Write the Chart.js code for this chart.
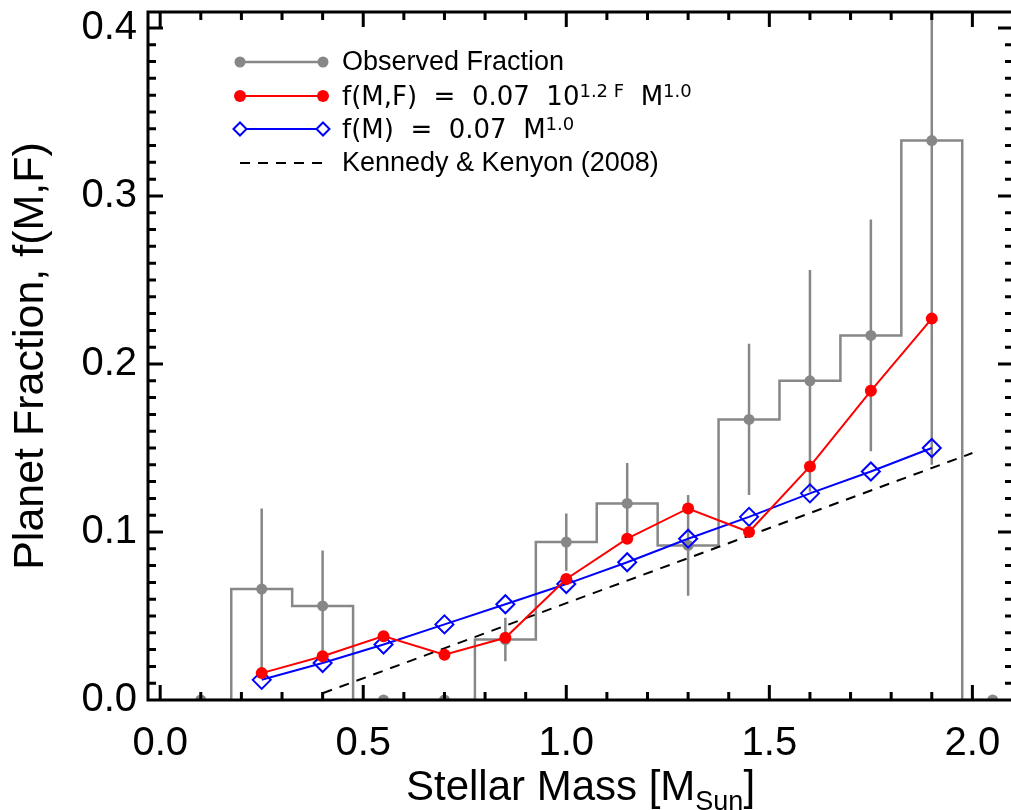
<!DOCTYPE html>
<html>
<head>
<meta charset="utf-8">
<script src="https://cdn.jsdelivr.net/npm/chart.js@4.4.0/dist/chart.umd.min.js"></script>
<style>
  html, body { margin: 0; padding: 0; background: #fff; overflow: hidden; }
  #wrap { width: 1011px; height: 810px; overflow: hidden; }
</style>
</head>
<body>
<div id="wrap"><canvas id="myChart" width="1016" height="810"></canvas></div>
<script>
// Data
const mass_bins = [0.1, 0.25, 0.4, 0.55, 0.7, 0.85, 1.0, 1.15, 1.3, 1.45, 1.6, 1.75, 1.9, 2.05];
const observed_frac = [0, 0.066, 0.056, 0, 0, 0.036, 0.094, 0.117, 0.092, 0.167, 0.190, 0.217, 0.333, 0];
const observed_err = [0, 0.048, 0.033, 0, 0, 0.013, 0.017, 0.024, 0.030, 0.045, 0.066, 0.069, 0.193, 0];

const model_mass = [0.25, 0.4, 0.55, 0.7, 0.85, 1.0, 1.15, 1.3, 1.45, 1.6, 1.75, 1.9];
const fmf_values = [0.016, 0.026, 0.038, 0.027, 0.037, 0.072, 0.096, 0.114, 0.100, 0.139, 0.184, 0.227];
const fm_values = [0.012, 0.022, 0.033, 0.045, 0.057, 0.069, 0.082, 0.096, 0.109, 0.123, 0.136, 0.150];

const kk_mass = [0.4, 2.0];
const kk_values = [0.004, 0.147];

const x_ticks = [0.0, 0.5, 1.0, 1.5, 2.0];
const y_ticks = [0.0, 0.1, 0.2, 0.3, 0.4];

// Styles
const FONT = '"Liberation Sans", Arial, Helvetica, sans-serif';
const GRAY = "#878787";
const RED = "#ff0000";
const BLUE = "#0000ff";

Chart.defaults.font.family = FONT;
Chart.defaults.color = "#000";

const toPoints = (xs, ys) => xs.map((x, i) => ({ x: x, y: ys[i] }));

// Error bars on the observed fraction
const errorBars = {
  id: "errorBars",
  beforeDatasetsDraw(chart) {
    const { ctx, chartArea, scales } = chart;
    ctx.save();
    ctx.beginPath();
    ctx.rect(chartArea.left, chartArea.top, chartArea.right - chartArea.left, chartArea.bottom - chartArea.top);
    ctx.clip();
    ctx.strokeStyle = GRAY;
    ctx.lineWidth = 2.5;
    ctx.beginPath();
    mass_bins.forEach((m, i) => {
      if (!observed_err[i]) return;
      const px = scales.x.getPixelForValue(m);
      ctx.moveTo(px, scales.y.getPixelForValue(observed_frac[i] - observed_err[i]));
      ctx.lineTo(px, scales.y.getPixelForValue(observed_frac[i] + observed_err[i]));
    });
    ctx.stroke();
    ctx.restore();
  }
};

// Box frame with inward ticks on all four sides
const frame = {
  id: "frame",
  afterDatasetsDraw(chart) {
    const { ctx, chartArea: a, scales } = chart;
    ctx.save();
    ctx.strokeStyle = "#000";
    ctx.lineWidth = 3;
    ctx.beginPath();
    for (let i = 0; i <= 21; i++) {
      const px = scales.x.getPixelForValue(i / 10);
      if (px <= a.left + 1 || px >= a.right - 1) continue;
      const len = i % 5 === 0 ? 15 : 8;
      ctx.moveTo(px, a.bottom);
      ctx.lineTo(px, a.bottom - len);
      ctx.moveTo(px, a.top);
      ctx.lineTo(px, a.top + len);
    }
    for (let i = 0; i <= 41; i++) {
      const py = scales.y.getPixelForValue(i / 100);
      if (py <= a.top + 1 || py >= a.bottom - 1) continue;
      const len = i % 10 === 0 ? 15 : 8;
      ctx.moveTo(a.left, py);
      ctx.lineTo(a.left + len, py);
      ctx.moveTo(a.right, py);
      ctx.lineTo(a.right - len, py);
    }
    ctx.stroke();
    ctx.strokeRect(a.left, a.top, a.right - a.left, a.bottom - a.top);
    ctx.restore();
  }
};

function drawRuns(ctx, runs, x, baseline, size, supSize) {
  runs.forEach((r) => {
    if (r[1]) {
      ctx.font = supSize + 'px "DejaVu Sans", sans-serif';
      ctx.fillText(r[0], x, baseline - 8);
    } else {
      ctx.font = size + 'px "DejaVu Sans", sans-serif';
      ctx.fillText(r[0], x, baseline);
    }
    x += ctx.measureText(r[0]).width;
  });
}

// Legend inside the plot, and the x title with its subscript
const annotations = {
  id: "annotations",
  afterDraw(chart) {
    const { ctx, chartArea: a } = chart;
    const x0 = 240, x1 = 323, tx = 342;
    ctx.save();
    ctx.textAlign = "left";
    ctx.textBaseline = "alphabetic";
    ctx.fillStyle = "#000";

    // Observed Fraction
    ctx.strokeStyle = GRAY;
    ctx.fillStyle = GRAY;
    ctx.lineWidth = 2.5;
    ctx.beginPath(); ctx.moveTo(x0, 62); ctx.lineTo(x1, 62); ctx.stroke();
    [x0, x1].forEach((x) => { ctx.beginPath(); ctx.arc(x, 62, 5.5, 0, Math.PI * 2); ctx.fill(); });

    // f(M,F)
    ctx.strokeStyle = RED;
    ctx.fillStyle = RED;
    ctx.lineWidth = 2;
    ctx.beginPath(); ctx.moveTo(x0, 96); ctx.lineTo(x1, 96); ctx.stroke();
    [x0, x1].forEach((x) => { ctx.beginPath(); ctx.arc(x, 96, 6, 0, Math.PI * 2); ctx.fill(); });

    // f(M)
    ctx.strokeStyle = BLUE;
    ctx.lineWidth = 2;
    ctx.beginPath(); ctx.moveTo(x0, 129); ctx.lineTo(x1, 129); ctx.stroke();
    [x0, x1].forEach((x) => {
      ctx.fillStyle = "#fff";
      ctx.beginPath();
      ctx.moveTo(x - 6.5, 129); ctx.lineTo(x, 122.5); ctx.lineTo(x + 6.5, 129); ctx.lineTo(x, 135.5);
      ctx.closePath(); ctx.fill(); ctx.stroke();
    });

    // Kennedy & Kenyon
    ctx.strokeStyle = "#000";
    ctx.setLineDash([10, 8]);
    ctx.beginPath(); ctx.moveTo(x0, 163); ctx.lineTo(x1, 163); ctx.stroke();
    ctx.setLineDash([]);

    ctx.fillStyle = "#000";
    ctx.font = "27px " + FONT;
    ctx.fillText("Observed Fraction", tx, 70);
    ctx.fillText("Kennedy & Kenyon (2008)", tx, 171);
    drawRuns(ctx, [["f(M,F)  =  0.07  10", false], ["1.2 F", true], ["  M", false], ["1.0", true]], tx, 105, 26, 18);
    drawRuns(ctx, [["f(M)  =  0.07  M", false], ["1.0", true]], tx, 138, 26, 18);

    // x axis title
    const main = "Stellar Mass [M", sub = "Sun", close = "]";
    ctx.font = "42px " + FONT;
    const wMain = ctx.measureText(main).width, wClose = ctx.measureText(close).width;
    ctx.font = "27px " + FONT;
    const wSub = ctx.measureText(sub).width;
    let x = (a.left + a.right) / 2 - (wMain + wSub + wClose) / 2;
    ctx.font = "42px " + FONT;
    ctx.fillText(main, x, 800);
    x += wMain;
    ctx.font = "27px " + FONT;
    ctx.fillText(sub, x, 810);
    x += wSub;
    ctx.font = "42px " + FONT;
    ctx.fillText(close, x, 800);
    ctx.restore();
  }
};

const ctx = document.getElementById("myChart").getContext("2d");

const myChart = new Chart(ctx, {
  type: "line",
  data: {
    datasets: [
      {
        label: "Observed Fraction",
        data: toPoints(mass_bins, observed_frac),
        stepped: "middle",
        borderColor: GRAY,
        borderWidth: 2.5,
        pointRadius: 5.5,
        pointBackgroundColor: GRAY,
        pointBorderWidth: 0,
        order: 4
      },
      {
        label: "Kennedy & Kenyon (2008)",
        data: toPoints(kk_mass, kk_values),
        borderColor: "#000",
        borderWidth: 2,
        borderDash: [10, 8],
        pointRadius: 0,
        order: 3
      },
      {
        label: "f(M) = 0.07 M^1.0",
        data: toPoints(model_mass, fm_values),
        borderColor: BLUE,
        borderWidth: 2,
        pointStyle: "rectRot",
        pointRadius: 9,
        pointBackgroundColor: "rgba(0,0,0,0)",
        pointBorderColor: BLUE,
        pointBorderWidth: 2,
        order: 2
      },
      {
        label: "f(M,F) = 0.07 10^1.2F M^1.0",
        data: toPoints(model_mass, fmf_values),
        borderColor: RED,
        borderWidth: 2,
        pointRadius: 6,
        pointBackgroundColor: RED,
        pointBorderWidth: 0,
        order: 1
      }
    ]
  },
  options: {
    responsive: false,
    animation: false,
    layout: { autoPadding: false, padding: { top: 12, right: 3, left: 0, bottom: 0 } },
    plugins: {
      legend: { display: false },
      tooltip: { enabled: false }
    },
    scales: {
      x: {
        type: "linear",
        min: -0.03,
        max: 2.1,
        afterBuildTicks: (scale) => { scale.ticks = x_ticks.map((v) => ({ value: v })); },
        afterFit: (scale) => {
          scale.height = 110;
          scale.paddingLeft = 0;
          scale.paddingRight = 0;
        },
        grid: { display: false, drawTicks: false },
        border: { display: false },
        ticks: {
          padding: 20,
          font: { size: 40 },
          color: "#000",
          maxRotation: 0,
          callback: (v) => Number(v).toFixed(1)
        }
      },
      y: {
        type: "linear",
        min: 0,
        max: 0.4095,
        afterBuildTicks: (scale) => { scale.ticks = y_ticks.map((v) => ({ value: v })); },
        afterFit: (scale) => {
          scale.width = 148;
          scale.paddingTop = 0;
          scale.paddingBottom = 0;
        },
        grid: { display: false, drawTicks: false },
        border: { display: false },
        title: {
          display: true,
          text: "Planet Fraction, f(M,F)",
          font: { size: 43 },
          color: "#000",
          padding: { top: 5, bottom: 0 }
        },
        ticks: {
          padding: 11,
          font: { size: 40 },
          color: "#000",
          callback: (v) => Number(v).toFixed(1)
        }
      }
    }
  },
  plugins: [errorBars, frame, annotations]
});
</script>
</body>
</html>
